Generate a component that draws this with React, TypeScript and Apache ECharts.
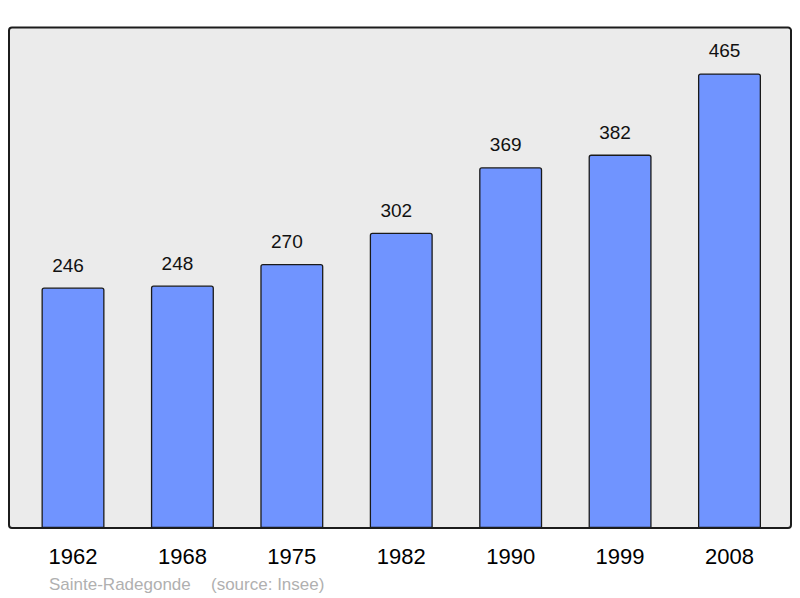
import { useEffect, useRef } from 'react'
import * as echarts from 'echarts'

const years = ['1962', '1968', '1975', '1982', '1990', '1999', '2008']
const population = [246, 248, 270, 302, 369, 382, 465]
const placeName = 'Sainte-Radegonde'
const sourceNote = '(source: Insee)'

const FONT = "'Liberation Sans', Arial, Helvetica, sans-serif"

export default function App() {
  const ref = useRef<HTMLDivElement>(null)

  useEffect(() => {
    const el = ref.current
    if (!el) return
    const chart = echarts.init(el, null, { renderer: 'svg' })
    chart.setOption({
      animation: false,
      textStyle: { fontFamily: FONT },
      grid: { left: 18.3, right: 15.8, top: 27.5, bottom: 70, containLabel: false },
      graphic: [
        {
          type: 'rect',
          z: -10,
          shape: { x: 9, y: 27.5, width: 782, height: 500.5, r: 3 },
          style: { fill: '#ebebeb', stroke: 'none' },
        },
        {
          type: 'rect',
          z: 100,
          shape: { x: 9, y: 27.5, width: 782, height: 500.5, r: 3 },
          style: { fill: 'none', stroke: '#1c1c1c', lineWidth: 2 },
        },
        {
          type: 'text',
          x: 49,
          y: 584,
          style: {
            text: placeName,
            fill: '#b0b0b0',
            font: `17px ${FONT}`,
            verticalAlign: 'middle',
          },
        },
        {
          type: 'text',
          x: 211,
          y: 584,
          style: {
            text: sourceNote,
            fill: '#b0b0b0',
            font: `17px ${FONT}`,
            verticalAlign: 'middle',
          },
        },
      ],
      xAxis: {
        type: 'category',
        data: years,
        axisLine: { show: false },
        axisTick: { show: false },
        axisLabel: { color: '#000', fontSize: 22, margin: 17, fontFamily: FONT },
        splitLine: { show: false },
      },
      yAxis: {
        type: 'value',
        min: 0,
        max: 512,
        show: false,
        splitLine: { show: false },
      },
      series: [
        {
          type: 'bar',
          data: population,
          barWidth: 63,
          itemStyle: {
            color: '#7094ff',
            borderColor: '#1a1a1a',
            borderWidth: 1.3,
            borderRadius: [2, 2, 0, 0],
          },
          label: {
            show: true,
            position: 'top',
            distance: 13,
            offset: [-5, 0],
            color: '#111',
            fontSize: 19,
            fontFamily: FONT,
          },
        },
      ],
    })
    return () => chart.dispose()
  }, [])

  return (
    <div
      ref={ref}
      style={{ position: 'absolute', left: 0, top: 0, width: 800, height: 598, background: '#fff' }}
    />
  )
}
